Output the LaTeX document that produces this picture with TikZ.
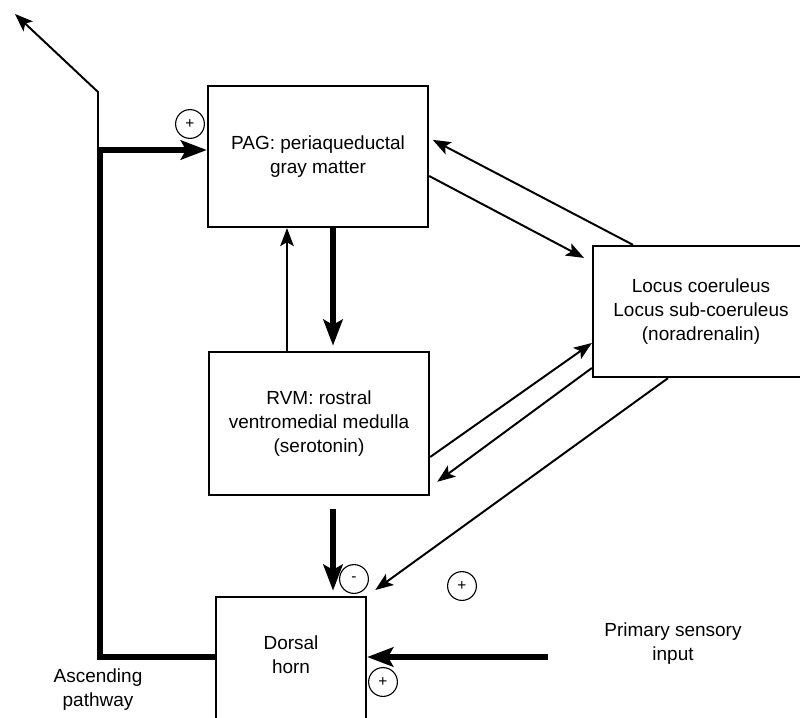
\documentclass[tikz,border=0pt]{standalone}
\usepackage{fontspec}
\setmainfont{Liberation Sans}
\usetikzlibrary{arrows.meta}
\tikzset{x=0.025cm, y=-0.025cm,
    every node/.style={
        font=\fontsize{13.5}{17}\selectfont,
        align=center},
    box/.style={
        draw,
        line width=1.6pt,
        inner sep=0pt},
    sign/.style={
        circle,
        draw,
        line width=0.8pt,
        minimum size=0.72cm,
        inner sep=0pt,
        font=\fontsize{11}{11}\selectfont},
    nerve/.style={
        line width=1.4pt,
        -{Stealth[length=0.45cm,width=0.34cm,inset=0.1cm]}},
    tract/.style={
        line width=4.2pt,
        -{Stealth[length=0.65cm,width=0.48cm,inset=0.13cm]}}}
\begin{document}
\begin{tikzpicture}
        \clip (0,0) rectangle (800,717);

        \node[box,minimum width=5.5cm,minimum height=3.525cm] (pag) at (318,156.5) {PAG: periaqueductal\\gray matter};
        \node[box,minimum width=5.5cm,minimum height=3.575cm] (rvm) at (319,423.5) {RVM: rostral\\ventromedial medulla\\(serotonin)};
        \node[box,minimum width=5.4cm,minimum height=3.275cm] (locus) at (701,311.5) {Locus coeruleus\\Locus sub-coeruleus\\(noradrenalin)};
        \node[box,minimum width=3.75cm,minimum height=3.7cm] (dh) at (291,671) {};
        \node (dhtext) at (291,655) {Dorsal\\horn};

        \node (asctext) at (98,690) {Ascending\\pathway};
        \node (input) at (673,644) {Primary sensory\\input};

        \coordinate (asc) at (100,150);
        \coordinate (bend) at (98,92);
        \coordinate (out) at (15,14);
        \coordinate (sens) at (548,657);

        % signs
        \node[sign] (s1) at (190,124) {+};
        \node[sign] (s2) at (354,579) {-};
        \node[sign] (s3) at (462,586) {+};
        \node[sign] (s4) at (383,682) {+};

        % ascending pathway
        \draw[tract] (dh.west |- sens) -| (asc) -- (pag.west |- asc);
        \draw[nerve] (asc -| bend) -- (bend) -- (out);

        % PAG <-> RVM
        \draw[tract,shorten >=0.13cm] (pag.south -| 333,0) -- (rvm.north -| 333,0);
        \draw[nerve] (rvm.north -| 287,0) -- (pag.south -| 287,0);

        % locus links
        \draw[nerve,shorten >=0.1cm] (locus.north -| 633,0) -- (pag.east |- 0,138);
        \draw[nerve,shorten >=0.22cm] (pag.east |- 0,176) -- (locus.west |- 0,262);
        \draw[nerve] (rvm.east |- 0,457) -- (locus.west |- 0,343);
        \draw[nerve,shorten >=0.22cm] (locus.west |- 0,368) -- (rvm.east |- 0,487);
        \draw[nerve,shorten >=0.25cm] (locus.south -| 668,0) -- (dh.north east);

        % to dorsal horn
        \draw[tract,shorten <=0.33cm,shorten >=0.13cm] (rvm.south -| 333,0) -- (dh.north -| 333,0);
        \draw[tract] (sens) -- (dh.east |- sens);
\end{tikzpicture}
\end{document}
